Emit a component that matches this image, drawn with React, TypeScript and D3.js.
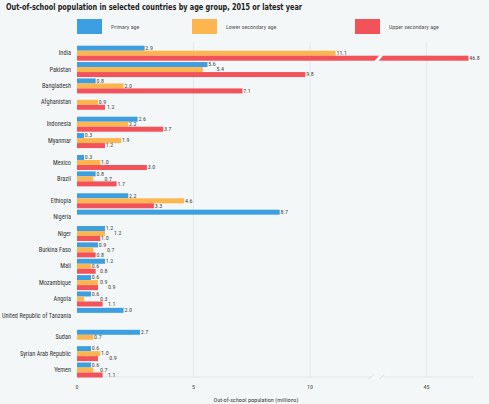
import React from "react";
import * as d3 from "d3";

const countries = [
  "India", "Pakistan", "Bangladesh", "Afghanistan",
  "Indonesia", "Myanmar",
  "Mexico", "Brazil",
  "Ethiopia", "Nigeria", "Niger", "Burkina Faso", "Mali", "Mozambique", "Angola", "United Republic of Tanzania",
  "Sudan", "Syrian Arab Republic", "Yemen",
];
const regionGroup = [0, 0, 0, 0, 1, 1, 2, 2, 3, 3, 3, 3, 3, 3, 3, 3, 4, 4, 4];
const primaryAge: (number | null)[] = [2.9, 5.6, 0.8, null, 2.6, 0.3, 0.3, 0.8, 2.2, 8.7, 1.2, 0.9, 1.2, 0.6, 0.6, 2.0, 2.7, 0.6, 0.6];
const lowerSecondary: (number | null)[] = [11.1, 5.4, 2.0, 0.9, 2.2, 1.9, 1.0, 0.7, 4.6, null, 1.2, 0.7, 0.6, 0.9, 0.3, null, 0.7, 1.0, 0.7];
const upperSecondary: (number | null)[] = [46.8, 9.8, 7.1, 1.2, 3.7, 1.2, 3.0, 1.7, 3.3, null, 1.0, 0.8, 0.8, 0.9, 1.1, null, null, 0.9, 1.1];
const seriesNames = ["Primary age", "Lower secondary age", "Upper secondary age"];
const seriesColors = ["#3d9fe0", "#fdb550", "#f2525a"];
const tickValues = [0, 5, 10, 45];
const breakStart = 12.85;
const breakShift = 30;

const W = 489;
const H = 404;
const BG = "#f4f7f8";
const FONT = "'Liberation Sans Narrow', 'Arial Narrow', 'Roboto Condensed', sans-serif";

export default function App() {
  const x = d3.scaleLinear().domain([0, 10]).range([77, 310]);
  const cx = (v: number) => x(v > breakStart ? v - breakShift : v);
  const plotRight = 473;
  const baselineY = 377;

  const pos = countries.map((_, i) => i + regionGroup[i] * 0.34);
  const y = d3.scaleLinear().domain([0, pos[pos.length - 1]]).range([53.2, 370]);
  const barH = 5;

  const series = [primaryAge, lowerSecondary, upperSecondary];

  const breakX = cx(breakStart);

  // value labels with simple collision avoidance
  const labels: { key: string; x: number; y: number; text: string }[] = [];
  countries.forEach((c, i) => {
    const top = y(pos[i]) - 1.5 * barH;
    const placed: { x0: number; x1: number; y0: number; y1: number }[] = [];
    series.forEach((s, k) => {
      const v = s[i];
      if (v == null) return;
      const by = top + k * barH;
      const text = v.toFixed(1);
      const w = text.length * 2.45;
      let x0 = cx(v) + 0.8;
      const y0 = by - 0.6;
      const y1 = by + barH + 0.6;
      let moved = true;
      let guard = 0;
      while (moved && guard < 10) {
        moved = false;
        guard++;
        for (const p of placed) {
          if (y0 < p.y1 && y1 > p.y0 && x0 < p.x1 && x0 + w > p.x0) {
            x0 = p.x1 + 0.8;
            moved = true;
          }
        }
      }
      placed.push({ x0, x1: x0 + w, y0, y1 });
      labels.push({ key: `${c}-${k}`, x: x0, y: by + barH / 2 + 1.8, text });
    });
  });

  return (
    <svg width={W} height={H} style={{ position: "fixed", left: 0, top: 0, background: BG }} fontFamily={FONT}>
      <rect x={0} y={0} width={W} height={H} fill={BG} />
      <text x={6} y={10} fontFamily="'DejaVu Sans Condensed', 'DejaVu Sans', sans-serif" fontWeight="bold" fontSize={8.3} fill="#222" textLength={296} lengthAdjust="spacingAndGlyphs">
        Out-of-school population in selected countries by age group, 2015 or latest year
      </text>
      {/* legend */}
      {seriesNames.map((name, i) => {
        const lx = [77, 192, 355][i];
        return (
          <g key={name}>
            <rect x={lx} y={19} width={25} height={15} fill={seriesColors[i]} />
            <text x={lx + 34} y={29} fontSize={6} fill="#555">{name}</text>
          </g>
        );
      })}
      {/* gridlines */}
      {tickValues.filter((t) => t > 0).map((t) => (
        <line key={t} x1={cx(t)} x2={cx(t)} y1={42} y2={baselineY} stroke="#e0e5e8" strokeWidth={0.8} />
      ))}
      {/* baseline with break */}
      <line x1={77} x2={breakX - 6} y1={baselineY} y2={baselineY} stroke="#dde2e5" strokeWidth={0.8} />
      <line x1={breakX + 7} x2={plotRight} y1={baselineY} y2={baselineY} stroke="#dde2e5" strokeWidth={0.8} />
      <line x1={breakX - 8} x2={breakX - 3} y1={baselineY + 2} y2={baselineY - 2} stroke="#d5dadd" strokeWidth={0.8} />
      <line x1={breakX + 3} x2={breakX + 8} y1={baselineY + 2} y2={baselineY - 2} stroke="#d5dadd" strokeWidth={0.8} />
      {/* tick labels */}
      {tickValues.map((t) => (
        <text key={t} x={cx(t)} y={389} fontSize={6} fill="#444" textAnchor="middle">{t}</text>
      ))}
      <text x={256} y={402} fontSize={6.2} fill="#444" textAnchor="middle">Out-of-school population (millions)</text>
      {/* country labels */}
      {countries.map((c, i) => (
        <text key={c} x={71} y={y(pos[i]) + 2.2} fontSize={6.3} fill="#333" textAnchor="end">{c}</text>
      ))}
      {/* bars */}
      {countries.map((c, i) => {
        const top = y(pos[i]) - 1.5 * barH;
        return (
          <g key={c}>
            {series.map((s, k) => {
              const v = s[i];
              if (v == null) return null;
              const by = top + k * barH;
              return (
                <rect key={k} x={x(0)} y={by} width={cx(v) - x(0)} height={barH} fill={seriesColors[k]} />
              );
            })}
          </g>
        );
      })}
      {/* break gap on bars crossing the break */}
      {countries.map((c, i) => {
        const top = y(pos[i]) - 1.5 * barH;
        return series.map((s, k) => {
          const v = s[i];
          if (v == null || v <= breakStart) return null;
          const by = top + k * barH;
          const pts = [
            [breakX - 2, by + barH + 0.5],
            [breakX + 3, by - 0.5],
            [breakX + 7, by - 0.5],
            [breakX + 2, by + barH + 0.5],
          ];
          return <polygon key={`${c}-${k}`} points={pts.map((p) => p.join(",")).join(" ")} fill={BG} />;
        });
      })}
      {/* value labels */}
      {labels.map((l) => (
        <text key={l.key} x={l.x} y={l.y} fontSize={6} fill="#444">{l.text}</text>
      ))}
    </svg>
  );
}
